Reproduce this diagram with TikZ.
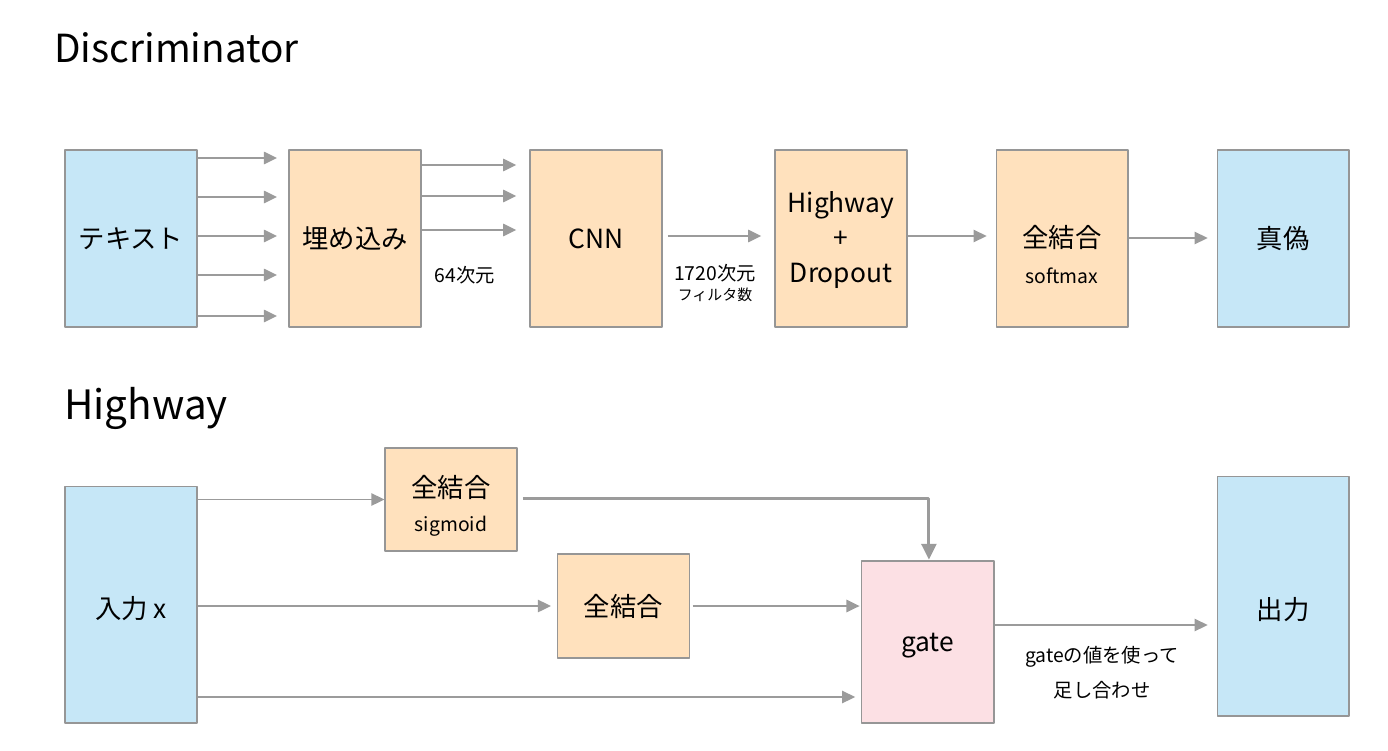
\documentclass[tikz,border=0pt]{standalone}
\usepackage{fontspec}
\setmainfont{Noto Sans CJK JP}
\usetikzlibrary{arrows.meta}
\definecolor{blueF}{RGB}{198,231,247}
\definecolor{orangeF}{RGB}{255,225,189}
\definecolor{pinkF}{RGB}{252,224,228}
\definecolor{lineC}{RGB}{150,150,150}
\definecolor{arrC}{RGB}{155,155,155}
\begin{document}
\begin{tikzpicture}[x=0.02cm,y=-0.02cm,>={Triangle[length=7.5pt,width=7pt]}, line join=round,
	box/.style={draw=lineC, line width=0.6pt, minimum width=2.64cm, minimum height=3.54cm, inner sep=0pt, align=center, font=\fontsize{15}{18}\selectfont},
	inbox/.style={box, fill=blueF},
	midbox/.style={box, fill=orangeF},
	arr/.style={->, draw=arrC, line width=1.1pt, shorten >=6.5pt},
	lbl/.style={inner sep=0pt, font=\fontsize{11}{13}\selectfont},
	big/.style={inner sep=0pt, font=\fontsize{15}{18}\selectfont},
	title/.style={inner sep=0pt, anchor=west, font=\fontsize{22}{26}\selectfont}]
	\useasboundingbox (0,0) rectangle (1388,750);
	% Discriminator
	\node[title] (t1) at (54,48) {Discriminator};
	\node[inbox] (txt) at (131,238.5) {テキスト};
	\node[midbox] (emb) at (355,238.5) {埋め込み};
	\node[midbox] (cnn) at (596,238.5) {CNN};
	\node[midbox] (hw) at (841,238.5) {};
	\node[big, align=center] (hwt) at (841,240) {Highway\\[1.8pt]+\\[1.8pt]Dropout};
	\node[midbox] (fc) at (1062,238.5) {};
	\node[big] (fct) at (1062,237) {全結合};
	\node[lbl] (fcs) at (1062,276) {softmax};
	\node[inbox] (tf) at (1283,238.5) {真偽};
	\node[lbl] (d64) at (465,275) {64次元};
	\node[lbl] (d1720) at (715,273) {1720次元};
	\node[inner sep=0pt, font=\fontsize{8.5}{10}\selectfont] (nf) at (715,295) {フィルタ数};
	\foreach \y in {158,197,236,275,316}{
		\draw[arr] (txt.east|-0,\y) -- (emb.west|-0,\y);
	}
	\foreach \y in {165,196,230}{
		\draw[arr, shorten >=7.5pt] (emb.east|-0,\y) -- (cnn.west|-0,\y);
	}
	\draw[arr, shorten <=3pt, shorten >=7.5pt] (cnn.east|-0,236) -- (hw.west|-0,236);
	\draw[arr, shorten <=0.5pt, shorten >=5pt] (hw.east|-0,236) -- (fc.west|-0,236);
	\draw[arr, shorten >=5pt] (fc.east|-0,238) -- (tf.west|-0,238);
	% Highway
	\node[title, font=\fontsize{23}{27}\selectfont] (t2) at (64,408) {Highway};
	\node[inbox, minimum height=4.74cm] (inp) at (131,604.5) {};
	\node[big] (inpt) at (131,609) {入力 x};
	\node[midbox, minimum height=2.06cm] (sig) at (451,499.5) {};
	\node[big] (sigt) at (451,487) {全結合};
	\node[lbl] (sigs) at (451,526) {sigmoid};
	\node[midbox, minimum height=2.08cm] (fc2) at (623.5,606) {全結合};
	\node[box, fill=pinkF, minimum width=2.66cm, minimum height=3.24cm] (gate) at (927.5,642) {};
	\node[big] (gatet) at (927.5,646) {gate};
	\node[inbox, minimum height=4.8cm] (out) at (1283,596) {};
	\node[big] (outt) at (1283,610) {出力};
	\node[lbl] (g1) at (1102,657) {gateの値を使って};
	\node[lbl] (g2) at (1102,690) {足し合わせ};
	\draw[arr, shorten >=0pt] (inp.east|-sig.west) -- (sig.west);
	\draw[arr, shorten >=3.4pt] (inp.east|-fc2.west) -- (fc2.west);
	\draw[arr, shorten >=3pt] (inp.east|-0,697) -- (gate.west|-0,697);
	\draw[arr, shorten <=1.5pt, shorten >=0.5pt] (fc2.east) -- (gate.west|-fc2.east);
	\draw[arr, shorten <=0.5pt, shorten >=5pt] (gate.east|-0,625) -- (out.west|-0,625);
	\draw[arr, line width=1.7pt, >={Triangle[length=9pt,width=8.5pt]}, shorten <=3pt, shorten >=0.5pt] (sig.east|-0,498) -| ([xshift=0.8pt]gate.north);
\end{tikzpicture}
\end{document}
